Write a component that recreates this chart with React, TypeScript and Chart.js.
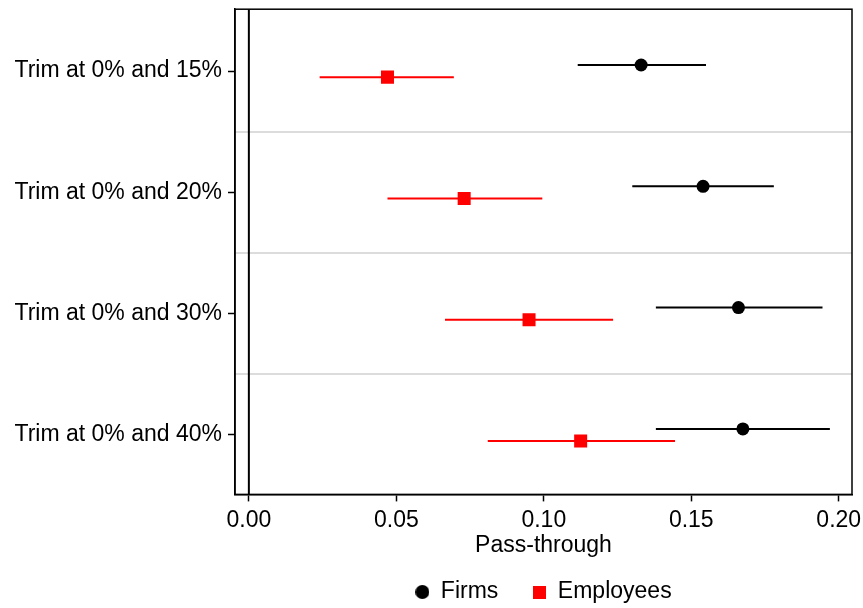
import React, { useEffect, useRef } from "react";
import { Chart, registerables } from "chart.js";

Chart.register(...registerables);

const categories = [
  "Trim at 0% and 15%",
  "Trim at 0% and 20%",
  "Trim at 0% and 30%",
  "Trim at 0% and 40%",
];
const firmsEst = [0.133, 0.154, 0.166, 0.1675];
const firmsLo = [0.1115, 0.13, 0.138, 0.138];
const firmsHi = [0.155, 0.178, 0.1945, 0.197];
const empEst = [0.047, 0.073, 0.095, 0.1125];
const empLo = [0.024, 0.047, 0.0665, 0.081];
const empHi = [0.0695, 0.0995, 0.1235, 0.1445];
const xTicks = [0, 0.05, 0.1, 0.15, 0.2];
const separators = [1.5, 2.5, 3.5];
const refLineX = 0;

const X_MIN = -0.0047;
const X_MAX = 0.2045;
const Y_MIN = 0.49;
const Y_MAX = 4.49;
const FIRM_OFF = -0.05;
const EMP_OFF = 0.05;
const FONT = "'Liberation Sans', Arial, sans-serif";
const FS = 23;
const LEGEND_CENTER_Y = 592;

function ciData(lo: number[], hi: number[], off: number) {
  const out: any[] = [];
  lo.forEach((l, i) => {
    const y = i + 1 + off;
    out.push({ x: l, y });
    out.push({ x: hi[i], y });
    out.push({ x: hi[i], y: null });
  });
  return out;
}

function makeMarker(kind: "circle" | "square", color: string, size: number) {
  const c = document.createElement("canvas");
  c.width = size;
  c.height = size;
  const ctx = c.getContext("2d")!;
  ctx.fillStyle = color;
  if (kind === "circle") {
    ctx.beginPath();
    ctx.arc(size / 2, size / 2, size / 2, 0, Math.PI * 2);
    ctx.fill();
  } else {
    ctx.fillRect(0, 0, size, size);
  }
  return c;
}

const frame = {
  id: "frame",
  afterLayout(chart: any) {
    const lg = chart.legend;
    const a = chart.chartArea;
    if (lg && a) {
      const pad = lg.options.labels.padding;
      const itemH = lg._itemHeight || FS;
      const h = lg.height;
      lg.left = a.left;
      lg.right = a.right;
      lg.top = LEGEND_CENTER_Y - pad - itemH / 2;
      lg.bottom = lg.top + h;
    }
  },
  afterDraw(chart: any) {
    const { ctx, chartArea: a } = chart;
    ctx.save();
    ctx.strokeStyle = "#000";
    ctx.lineWidth = 1.5;
    ctx.strokeRect(a.left, a.top, a.right - a.left, a.bottom - a.top);
    ctx.restore();
  },
};

export default function App() {
  const ref = useRef<HTMLCanvasElement | null>(null);
  useEffect(() => {
    if (!ref.current) return;
    const circ = makeMarker("circle", "#000", 14);
    const sq = makeMarker("square", "#ff0000", 13);
    const chart = new Chart(ref.current, {
      type: "scatter",
      data: {
        datasets: [
          {
            label: "zero",
            data: [
              { x: refLineX, y: Y_MIN },
              { x: refLineX, y: Y_MAX },
            ],
            showLine: true,
            borderColor: "#000",
            borderWidth: 2,
            pointRadius: 0,
          },
          {
            label: "Firms CI",
            data: ciData(firmsLo, firmsHi, FIRM_OFF),
            showLine: true,
            spanGaps: false,
            borderColor: "#000",
            borderWidth: 2,
            pointRadius: 0,
          },
          {
            label: "Employees CI",
            data: ciData(empLo, empHi, EMP_OFF),
            showLine: true,
            spanGaps: false,
            borderColor: "#ff0000",
            borderWidth: 2,
            pointRadius: 0,
          },
          {
            label: "Firms",
            data: firmsEst.map((v, i) => ({ x: v, y: i + 1 + FIRM_OFF })),
            pointStyle: "circle",
            pointRadius: 6.5,
            backgroundColor: "#000",
            borderColor: "#000",
            borderWidth: 0,
          },
          {
            label: "Employees",
            data: empEst.map((v, i) => ({ x: v, y: i + 1 + EMP_OFF })),
            pointStyle: "rect",
            pointRadius: 9.2,
            backgroundColor: "#ff0000",
            borderColor: "#ff0000",
            borderWidth: 0,
          },
        ] as any,
      },
      options: {
        animation: false,
        responsive: true,
        maintainAspectRatio: false,
        layout: { padding: { top: 7, right: 11, left: 0, bottom: -21 } },
        font: { family: FONT },
        plugins: {
          tooltip: { enabled: false },
          legend: {
            position: "bottom",
            labels: {
              usePointStyle: true,
              boxWidth: 14,
              boxHeight: 14,
              padding: 34,
              color: "#000",
              font: { family: FONT, size: FS },
              filter: (item: any) => item.text === "Firms" || item.text === "Employees",
              generateLabels: (ch: any) => {
                const base = Chart.defaults.plugins.legend.labels.generateLabels(ch);
                return base.map((l: any) => {
                  if (l.text === "Firms") l.pointStyle = circ;
                  if (l.text === "Employees") l.pointStyle = sq;
                  l.lineWidth = 0;
                  return l;
                });
              },
            },
          },
        },
        scales: {
          x: {
            type: "linear",
            min: X_MIN,
            max: X_MAX,
            afterBuildTicks: (s: any) => {
              s.ticks = xTicks.map((v) => ({ value: v }));
            },
            afterFit: (s: any) => {
              s.paddingLeft = 0;
              s.paddingRight = 0;
            },
            ticks: {
              color: "#000",
              font: { family: FONT, size: FS },
              padding: 5,
              maxRotation: 0,
              callback: (v: any) => Number(v).toFixed(2),
            },
            grid: {
              drawOnChartArea: false,
              tickLength: 7,
              tickColor: "#000",
              tickWidth: 1.5,
            },
            border: { color: "#000", width: 1.5 },
            title: {
              display: true,
              text: "Pass-through",
              color: "#000",
              font: { family: FONT, size: FS, lineHeight: 1.0 },
              padding: { top: -5, bottom: 5 },
            },
          },
          y: {
            type: "linear",
            reverse: true,
            min: Y_MIN,
            max: Y_MAX,
            afterBuildTicks: (s: any) => {
              s.ticks = categories.map((_, i) => ({ value: i + 1 }));
            },
            afterFit: (s: any) => {
              s.width = 235;
              s.paddingTop = 0;
              s.paddingBottom = 0;
            },
            ticks: {
              color: "#000",
              font: { family: FONT, size: FS },
              padding: 6,
              callback: (v: any) => categories[Math.round(Number(v)) - 1] ?? "",
            },
            grid: {
              drawOnChartArea: false,
              tickLength: 7,
              tickColor: "#000",
              tickWidth: 1.5,
            },
            border: { color: "#000", width: 1.5 },
          },
          sep: {
            type: "linear",
            position: "right",
            reverse: true,
            min: Y_MIN,
            max: Y_MAX,
            afterBuildTicks: (s: any) => {
              s.ticks = separators.map((v) => ({ value: v }));
            },
            afterFit: (s: any) => {
              s.width = 0;
              s.paddingTop = 0;
              s.paddingBottom = 0;
            },
            ticks: { display: false },
            grid: { color: "#dcdcdc", lineWidth: 2, drawTicks: false },
            border: { display: false },
          },
        },
      } as any,
      plugins: [frame],
    });
    return () => chart.destroy();
  }, []);
  return (
    <div style={{ position: "absolute", left: 0, top: 0, width: 863, height: 608, background: "#fff" }}>
      <canvas ref={ref} />
    </div>
  );
}
